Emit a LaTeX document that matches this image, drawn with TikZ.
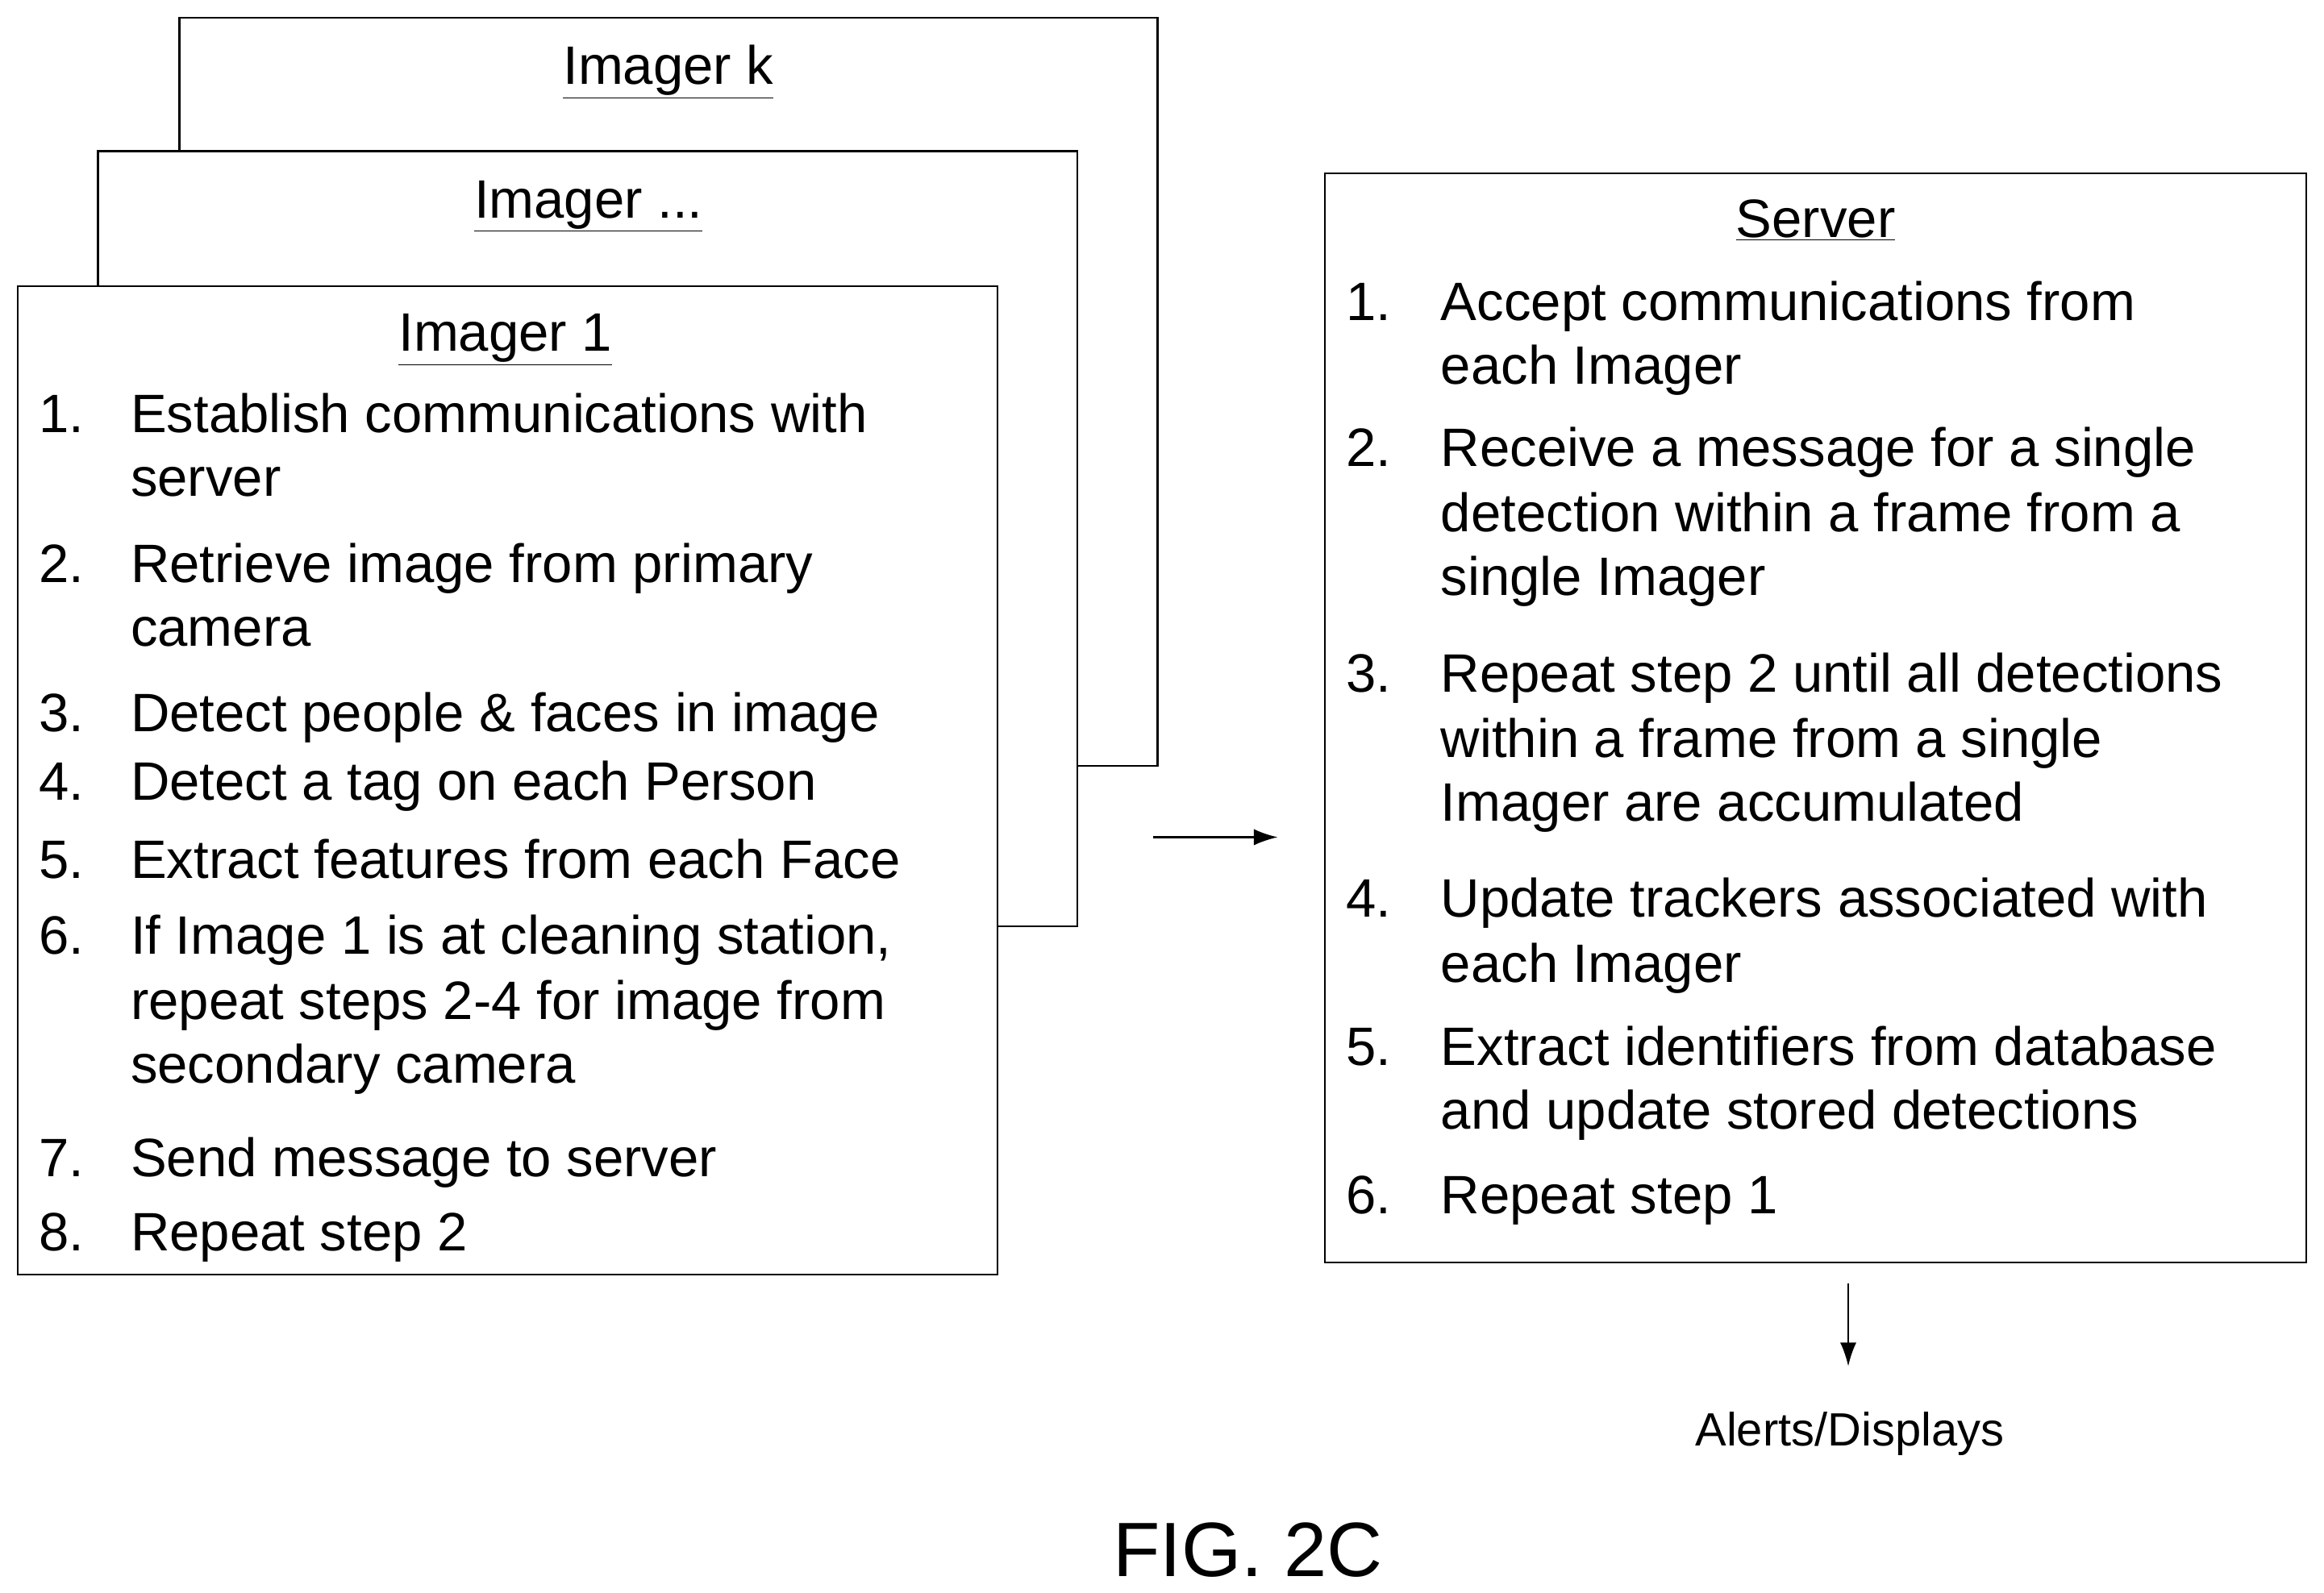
\documentclass[tikz,border=0pt]{standalone}
\usepackage{fontspec}
\setmainfont{Liberation Sans}
\usetikzlibrary{arrows.meta}
\begin{document}
\begin{tikzpicture}[x=1pt,y=-1pt,
  box/.style={draw,line width=1.3pt,fill=white},
  t/.style={anchor=base west,inner sep=0pt,font=\fontsize{36.5}{42}\selectfont},
  ttl/.style={anchor=base,inner sep=0pt,font=\fontsize{36.5}{42}\selectfont},
  arr/.style={-{Latex[length=16pt,width=11pt]},line width=1.2pt}]
\useasboundingbox (0,0) rectangle (1568,1075);
\draw[box] (121,12) rectangle (781,517);
\node[ttl] (tk) at (451,57) {\underline{Imager k}};
\draw[box] (66,102) rectangle (727,625);
\node[ttl] (td) at (397,147) {\underline{Imager ...}};
\draw[box] (12,193) rectangle (673,860);
\node[ttl] (t1) at (341,237) {\underline{Imager 1}};
\draw[box] (894,117) rectangle (1556,852);
\node[ttl] (ts) at (1225,160) {\underline{Server}};
% imager 1 items
\foreach \n/\y in {1/279,2/380,3/481,4/527,5/580,6/631,7/781,8/831}
  \node[t] (n\n) at (26,\y+13) {\n.};
\foreach \s/\y [count=\i] in {Establish communications with/279,server/322,Retrieve image from primary/380,camera/423,Detect people \& faces in image/481,Detect a tag on each Person/527,Extract features from each Face/580,{If Image 1 is at cleaning station,}/631,repeat steps 2-4 for image from/675,secondary camera/718,Send message to server/781,Repeat step 2/831}
  \node[t] (a\i) at (88,\y+13) {\s};
% server items
\foreach \n/\y in {1/203,2/302,3/454,4/606,5/706,6/806}
  \node[t] (m\n) at (908,\y+13) {\n.};
\foreach \s/\y [count=\i] in {Accept communications from/203,each Imager/246,Receive a message for a single/302,detection within a frame from a/346,single Imager/389,Repeat step 2 until all detections/454,within a frame from a single/498,Imager are accumulated/541,Update trackers associated with/606,each Imager/650,Extract identifiers from database/706,and update stored detections/749,Repeat step 1/806}
  \node[t] (b\i) at (972,\y+13) {\s};
\coordinate (p1) at (778,565);
\coordinate (p2) at (862,565);
\draw[arr] (p1) -- (p2);
\coordinate (q1) at (1247,866);
\node[anchor=base,inner sep=0pt,font=\fontsize{31.5}{36}\selectfont] (al) at (1248,976) {Alerts/Displays};
\draw[arr] (q1) -- (1247,922);
\node[anchor=base,inner sep=0pt,font=\fontsize{52}{60}\selectfont] (fig) at (842,1064) {FIG. 2C};
\end{tikzpicture}
\end{document}
